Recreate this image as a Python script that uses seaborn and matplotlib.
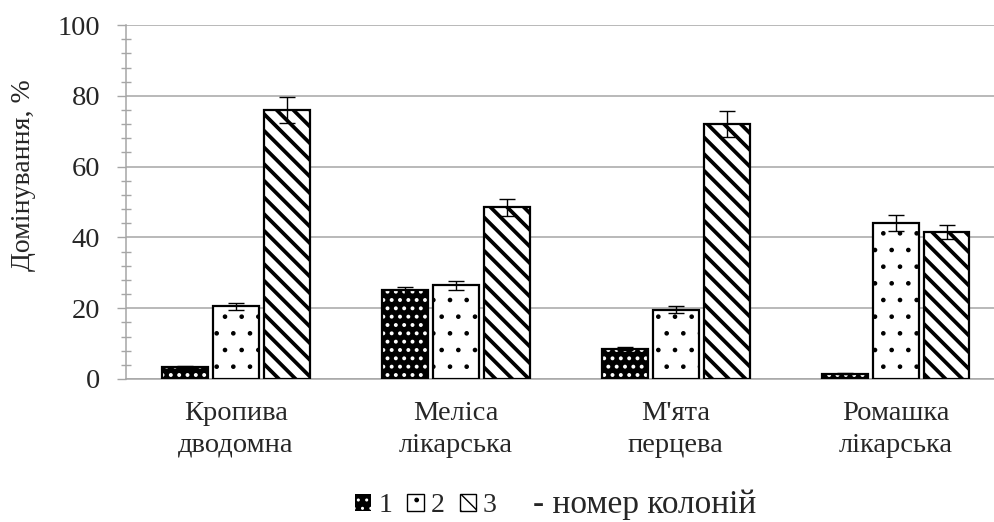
import matplotlib
matplotlib.use("Agg")
import matplotlib.pyplot as plt
from matplotlib.patches import Rectangle, Patch
from matplotlib.ticker import MultipleLocator
from matplotlib.container import BarContainer
import seaborn as sns
import pandas as pd
import numpy as np

categories = ["Кропива\nдводомна", "Меліса\nлікарська", "М'ята\nперцева", "Ромашка\nлікарська"]
colonies = ["1", "2", "3"]
colony1 = [3.5, 25.0, 8.5, 1.5]
colony2 = [20.5, 26.5, 19.5, 44.0]
colony3 = [76.0, 48.5, 72.0, 41.5]
err1 = [0.3, 1.1, 0.4, 0.2]
err2 = [1.0, 1.3, 1.0, 2.2]
err3 = [3.7, 2.4, 3.6, 2.0]
y_label = "Домінування, %"
legend_suffix = "- номер колоній"

values = [colony1, colony2, colony3]
errors = [err1, err2, err3]
df = pd.DataFrame({
    "plant": [c for _ in colonies for c in categories],
    "colony": [k for k in colonies for _ in categories],
    "value": [v for vals in values for v in vals],
})

sns.set_theme(style="white")
plt.rcParams["font.family"] = ["Liberation Serif", "DejaVu Serif"]
plt.rcParams["hatch.linewidth"] = 1.0

fig = plt.figure(figsize=(9.95, 5.22), dpi=100)
ax = fig.add_axes([0.1266, 0.274, 0.884, 0.678])

sns.barplot(data=df, x="plant", y="value", hue="colony", order=categories,
            hue_order=colonies, palette=["white"] * 3, width=0.695, gap=0.1,
            errorbar=None, legend=False, ax=ax, saturation=1)

styles = [
    dict(facecolor="black", edgecolor="white", hatch="..", hlw=1.6),
    dict(facecolor="white", edgecolor="black", hatch=".", hlw=0.9),
    dict(facecolor="white", edgecolor="black", hatch="\\\\", hlw=2.7),
]

def style_patch(p, st, lw=0):
    p.set_facecolor(st["facecolor"])
    p.set_edgecolor(st["edgecolor"])
    p.set_hatch(st["hatch"])
    p.set_linewidth(lw)
    if hasattr(p, "set_hatch_linewidth"):
        p.set_hatch_linewidth(st["hlw"])

bar_containers = [c for c in ax.containers if isinstance(c, BarContainer)]
for i, cont in enumerate(bar_containers):
    st = styles[i]
    xs, tops = [], []
    for p in cont.patches:
        style_patch(p, st)
        x0, y0 = p.get_x(), p.get_y()
        w, h = p.get_width(), p.get_height()
        ax.add_patch(Rectangle((x0, y0), w, h, fill=False, edgecolor="black",
                               linewidth=1.6, zorder=3))
        xs.append(x0 + w / 2)
        tops.append(y0 + h)
    ax.errorbar(xs, tops, yerr=errors[i], fmt="none", ecolor="black",
                elinewidth=1.0, capsize=6, capthick=1.0, zorder=4)

ax.set_xlim(-0.5, 3.5)
ax.set_ylim(0, 100)
ax.yaxis.set_major_locator(MultipleLocator(20))
ax.yaxis.set_minor_locator(MultipleLocator(4))
ax.grid(axis="y", which="major", color="#a6a6a6", linewidth=1.1)
ax.set_axisbelow(True)
for s in ["top", "right"]:
    ax.spines[s].set_visible(False)
for s in ["left", "bottom"]:
    ax.spines[s].set_color("#a6a6a6")
    ax.spines[s].set_linewidth(1.1)
ax.tick_params(axis="y", which="major", direction="out", length=6.5, width=1.0,
               color="#a6a6a6", labelsize=20.5, pad=12, left=True)
ax.tick_params(axis="y", which="minor", direction="inout", length=7, width=1.0,
               color="#a6a6a6", left=True)
ax.tick_params(axis="x", length=0, labelsize=20.5, pad=16)
for lab in ax.get_xticklabels():
    lab.set_linespacing(1.35)
ax.set_xlabel("")
ax.set_ylabel(y_label, fontsize=20)
ax.yaxis.set_label_coords(-0.102, 0.576)

handles = []
for st in styles:
    hp = Patch()
    style_patch(hp, st, lw=0 if st["facecolor"] == "black" else 1.0)
    if hasattr(hp, "set_hatch_linewidth"):
        hp.set_hatch_linewidth(min(st["hlw"], 1.2))
    handles.append(hp)
fig.legend(handles, colonies, loc="center left", bbox_to_anchor=(0.357, 0.031),
           ncol=3, frameon=False, fontsize=20, handlelength=0.58,
           handleheight=0.58, handletextpad=0.25, columnspacing=0.55,
           borderpad=0, borderaxespad=0)
fig.text(0.5357, 0.017, legend_suffix, fontsize=24, ha="left", va="baseline")

fig.savefig("out.png", dpi=100)
